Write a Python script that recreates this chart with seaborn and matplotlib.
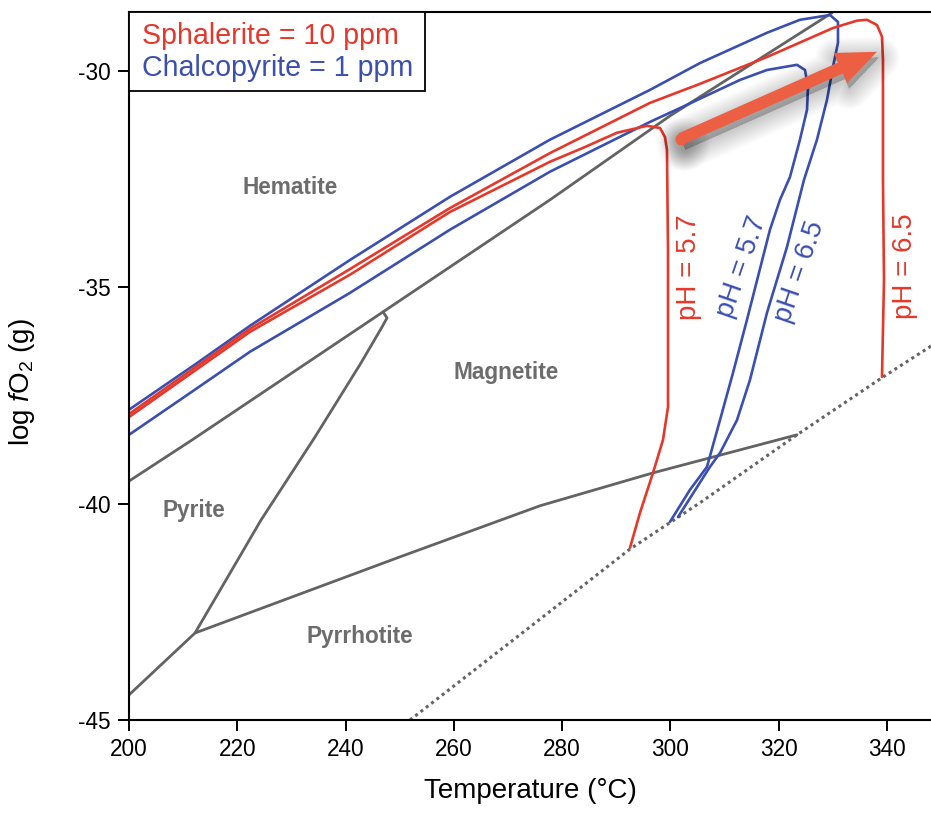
import matplotlib
matplotlib.use("Agg")
import matplotlib.pyplot as plt
import numpy as np
import pandas as pd
import seaborn as sns
from matplotlib.patches import FancyArrowPatch, Rectangle
from matplotlib.transforms import ScaledTranslation

sns.set_theme(style="white")
plt.rcParams["font.family"] = ["Liberation Sans", "DejaVu Sans"]
plt.rcParams["axes.unicode_minus"] = False
plt.rcParams["mathtext.fontset"] = "custom"
plt.rcParams["mathtext.rm"] = "Liberation Sans"
plt.rcParams["mathtext.it"] = "Liberation Sans:italic"

# ---- mineral stability boundaries (T in degC, log fO2) ----
temp_hem_mag = [200, 211.63, 246.91, 277.75, 299.91, 329.82]
logfo2_hem_mag = [-39.48, -38.53, -35.57, -32.98, -31.04, -28.66]

temp_py_mag = [212.19, 224.38, 234.35, 242.84, 246.72, 247.65, 246.91]
logfo2_py_mag = [-42.99, -40.38, -38.46, -36.75, -35.92, -35.71, -35.57]

temp_po = [200, 212.19, 250.05, 275.90, 296.77, 323.36]
logfo2_po = [-44.42, -42.99, -41.23, -40.05, -39.29, -38.41]

temp_dotted = [251.89, 274.05, 292.52, 305.45, 323.36, 339.06, 348.11]
logfo2_dotted = [-45.0, -42.85, -41.05, -39.98, -38.41, -37.09, -36.36]

# ---- solubility contours ----
temp_sph_57 = [200, 222.35, 240.81, 259.28, 277.75, 283.84, 290.12, 295.66, 298.06,
               298.98, 299.35, 299.54, 299.54, 298.61, 296.77, 294.37, 292.52]
logfo2_sph_57 = [-38.00, -36.03, -34.71, -33.26, -32.10, -31.78, -31.43, -31.27, -31.32,
                 -31.53, -31.83, -34.14, -37.77, -38.53, -39.29, -40.21, -41.02]

temp_sph_65 = [200, 222.35, 240.81, 259.28, 277.75, 296.21, 305.45, 317.82, 330.01,
               334.44, 336.29, 338.13, 339.06, 339.24, 339.24, 339.43, 339.06]
logfo2_sph_65 = [-37.93, -35.96, -34.58, -33.17, -31.90, -30.74, -30.30, -29.68, -29.01,
                 -28.84, -28.82, -28.94, -29.21, -29.75, -32.52, -34.83, -37.07]

temp_ccp_65 = [200, 212.37, 222.35, 240.81, 259.28, 277.75, 296.21, 305.45, 317.82,
               323.91, 329.45, 330.93, 330.93, 330.01, 328.90, 327.05, 324.65, 321.51,
               317.82, 314.68, 312.28, 309.14, 307.29, 301.39]
logfo2_ccp_65 = [-37.83, -36.77, -35.89, -34.37, -32.91, -31.59, -30.44, -29.82, -29.12,
                 -28.82, -28.71, -28.87, -29.35, -29.91, -30.67, -31.59, -32.52, -34.07,
                 -35.59, -37.14, -38.07, -38.83, -39.15, -40.31]

temp_ccp_57 = [200, 212.37, 222.35, 240.81, 259.28, 277.75, 296.21, 301.75, 312.83,
               317.82, 323.36, 324.84, 325.39, 325.21, 323.91, 322.07, 320.22, 318.37,
               314.13, 311.54, 309.14, 306.74, 303.60, 299.91]
logfo2_ccp_57 = [-38.41, -37.35, -36.49, -35.13, -33.67, -32.33, -31.18, -30.86, -30.21,
                 -29.98, -29.86, -29.98, -30.37, -30.90, -31.59, -32.45, -32.98, -33.67,
                 -35.75, -36.98, -38.07, -39.15, -39.68, -40.42]

x_ticks = [200, 220, 240, 260, 280, 300, 320, 340]
y_ticks = [-45, -40, -35, -30]

RED = "#E5382B"
BLUE = "#3A4FB0"
GRAY = "#636363"
LABEL_GRAY = "#6C6C6C"
ARROW = "#EC5F43"

fig = plt.figure(figsize=(9.31, 8.24), dpi=100)
ax = fig.add_axes([129 / 931, 104 / 824, 802 / 931, 708 / 824])

def draw(t, y, color, lw, **kw):
    df = pd.DataFrame({"T": t, "logfO2": y})
    sns.lineplot(data=df, x="T", y="logfO2", sort=False, estimator=None,
                 color=color, lw=lw, ax=ax, **kw)

draw(temp_hem_mag, logfo2_hem_mag, GRAY, 2.0, solid_joinstyle="round")
draw(temp_py_mag, logfo2_py_mag, GRAY, 2.0, solid_joinstyle="round")
draw(temp_po, logfo2_po, GRAY, 2.0, solid_joinstyle="round")
draw(temp_dotted, logfo2_dotted, "#646464", 2.2, linestyle=(0, (1, 1.2)))

draw(temp_ccp_65, logfo2_ccp_65, BLUE, 1.9, solid_joinstyle="round")
draw(temp_ccp_57, logfo2_ccp_57, BLUE, 1.9, solid_joinstyle="round")
draw(temp_sph_65, logfo2_sph_65, RED, 1.9, solid_joinstyle="round")
draw(temp_sph_57, logfo2_sph_57, RED, 1.9, solid_joinstyle="round")

# ---- arrow with a soft drop shadow ----
arrow_tail = (301.94, -31.57)
arrow_tip = (338.13, -29.56)

def draw_arrow(color, alpha=1.0, offset=(0, 0), grow=0.0, zorder=6):
    trans = ax.transData + ScaledTranslation(offset[0] / 72, offset[1] / 72,
                                             fig.dpi_scale_trans)
    patch = FancyArrowPatch(arrow_tail, arrow_tip, transform=trans,
                            arrowstyle="simple,head_length=1.44,head_width=1.19,tail_width=0.43",
                            mutation_scale=20, shrinkA=0, shrinkB=0,
                            facecolor=color, edgecolor=color, lw=grow, alpha=alpha,
                            joinstyle="round", zorder=zorder)
    ax.add_patch(patch)
    ax.plot([arrow_tail[0]], [arrow_tail[1]], marker="o", ms=8.6 + grow,
            mec="none", mfc=color, alpha=alpha, transform=trans, zorder=zorder)

# stacked translucent strokes give a blurred shadow
for g in np.linspace(30, 2, 18):
    draw_arrow("black", alpha=0.0105, offset=(1.5, -4.0), grow=g, zorder=5)
draw_arrow(ARROW, zorder=7)

# ---- region labels ----
region_kw = dict(color=LABEL_GRAY, fontsize=16.3, fontweight="bold", ha="center", va="center")
ax.text(229.73, -32.70, "Hematite", **region_kw)
ax.text(269.62, -36.98, "Magnetite", **region_kw)
ax.text(212.0, -40.17, "Pyrite", **region_kw)
ax.text(242.66, -43.06, "Pyrrhotite", **region_kw)

# ---- pH labels on the contours ----
ph_kw = dict(fontsize=20, ha="center", va="center", rotation_mode="anchor")
ax.text(303.42, -34.53, "pH = 5.7", color=RED, rotation=90, **ph_kw)
ax.text(343.31, -34.51, "pH = 6.5", color=RED, rotation=90, **ph_kw)
ax.text(313.20, -34.53, "pH = 5.7", color=BLUE, rotation=71, **ph_kw)
ax.text(323.91, -34.65, "pH = 6.5", color=BLUE, rotation=71, **ph_kw)

# ---- legend box with coloured entries ----
ax.add_patch(Rectangle((0, 0.888), 0.369, 0.112, transform=ax.transAxes,
                       facecolor="white", edgecolor="black", lw=1.3, zorder=10,
                       clip_on=False))
legend_kw = dict(transform=ax.transAxes, fontsize=20.6, ha="left", va="center", zorder=11)
ax.text(0.0162, 0.9655, "Sphalerite = 10 ppm", color=RED, **legend_kw)
ax.text(0.0162, 0.9215, "Chalcopyrite = 1 ppm", color=BLUE, **legend_kw)

# ---- axes styling ----
ax.set_xlim(200, 348.11)
ax.set_ylim(-45.0, -28.64)
ax.set_xticks(x_ticks)
ax.set_yticks(y_ticks)
ax.set_xticklabels([str(v) for v in x_ticks])
ax.set_yticklabels([str(v) for v in y_ticks])
ax.tick_params(axis="both", direction="out", length=8, width=1.4, labelsize=16.3,
               pad=5, colors="black", bottom=True, left=True, top=False, right=False)
for side in ["left", "bottom", "top"]:
    ax.spines[side].set_visible(True)
    ax.spines[side].set_color("black")
    ax.spines[side].set_linewidth(1.5)
ax.spines["right"].set_visible(False)
ax.grid(False)

ax.set_xlabel("Temperature (°C)", fontsize=20, labelpad=12, color="black")
ax.set_ylabel(r"log $f$O$_2$ (g)", fontsize=20, color="black")
ax.yaxis.set_label_coords(-0.115, 0.477)

fig.savefig("out.png", dpi=100)
